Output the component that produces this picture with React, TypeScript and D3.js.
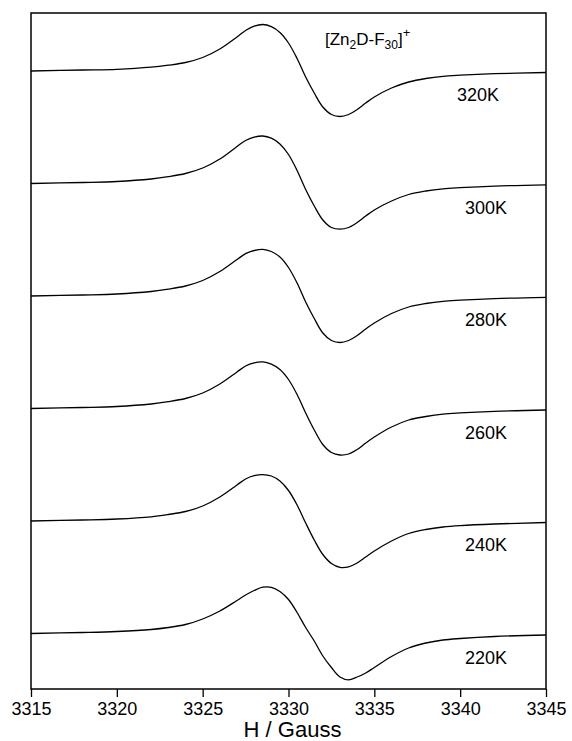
import React, {useEffect, useRef} from 'react';
import * as d3 from 'd3';

// magnetic field samples (Gauss), shared by all spectra
const fields = [3315, 3318, 3320, 3322, 3323, 3324, 3325, 3326, 3327, 3327.5, 3328, 3328.5, 3329, 3329.5, 3330,
    3330.5, 3331, 3331.5, 3332, 3332.5, 3333, 3333.5, 3334, 3334.5, 3335, 3336, 3337, 3338, 3339, 3340, 3342, 3345];

// derivative EPR signal (a.u.) per temperature
const s320 = [0, 1, 1.7, 3.8, 5.8, 8.5, 13.5, 22, 34, 40.5, 44.8, 46.5, 44.3, 38.5, 28, 12.5, -6, -22, -36, -43.5, -45.5, -43.5, -38.5, -32, -26, -17, -11, -7.5, -5.3, -4.2, -2.7, -1.5];
const s300 = [0, 1, 2, 4.5, 6.8, 10, 15.5, 24.5, 37, 43, 46.3, 47.5, 45.3, 39.5, 29, 13, -6, -22.5, -36.5, -44, -45.7, -44, -39, -32.5, -26.5, -17.5, -11, -7.5, -5.3, -4.2, -2.6, -1.3];
const s280 = [0, 1, 2, 4.5, 6.8, 10, 15.5, 24.5, 36.5, 42.3, 45.5, 46.7, 44.5, 39, 28.5, 13, -6, -22.5, -37, -44.5, -46.5, -44.5, -39.5, -33, -27, -17.5, -11, -7.5, -5.3, -4.2, -2.6, -1.3];
const s260 = [0, 1, 2, 4.5, 6.8, 10, 15.5, 24.5, 36.5, 42.5, 45.7, 46.6, 44.3, 39, 29, 14, -4.5, -21.5, -36, -44, -46.5, -45.5, -41, -34.5, -28.5, -18.5, -11.5, -8, -5.6, -4.4, -2.8, -1.5];
const s240 = [0, 1, 2, 4.2, 6.5, 9.5, 15, 24, 36, 42, 45.3, 46.4, 45, 40, 30.5, 16, -2, -19, -33.5, -42.5, -46.3, -45.8, -42, -36, -30, -20, -12.5, -8.5, -6, -4.6, -3, -1.5];
const s220 = [0, 1, 2, 4, 6, 9, 14.5, 22.5, 33, 38.5, 43, 46.3, 46.2, 42, 34, 21, 6, -7.5, -22.5, -34, -43.5, -46.3, -43.5, -39.5, -34, -23, -14.5, -9.5, -6.5, -5, -3, -1.5];

const temps = ['320K', '300K', '280K', '260K', '240K', '220K'];
const signals = [s320, s300, s280, s260, s240, s220];
const offsets = [562.5, 450, 337.5, 225, 112.5, 0];

const xTicks = [3315, 3320, 3325, 3330, 3335, 3340, 3345];

const EprChart = ({width, height}) => {
    const svgRef = useRef(null);

    useEffect(() => {
        const svg = d3.select(svgRef.current);
        svg.selectAll('*').remove();

        const left = 31, right = 546, top = 13, bottom = 689;
        const font = 'Arial, "Liberation Sans", sans-serif';

        const x = d3.scaleLinear().domain([3315, 3345]).range([left, right]);
        const y = d3.scaleLinear().domain([-55.5, 620.5]).range([bottom, top]);

        // spectra
        const line = d3.line()
            .x(d => x(d[0]))
            .y(d => y(d[1]))
            .curve(d3.curveCatmullRom.alpha(0.5));

        signals.forEach((sig, i) => {
            const pts = fields.map((f, j) => [f, sig[j] + offsets[i]]);
            svg.append('path')
                .attr('d', line(pts))
                .attr('fill', 'none')
                .attr('stroke', '#000')
                .attr('stroke-width', 1.3);

            svg.append('text')
                .attr('x', i === 0 ? 457 : 465)
                .attr('y', y(offsets[i]) + 30)
                .attr('font-family', font)
                .attr('font-size', 18)
                .text(temps[i]);
        });

        // frame
        svg.append('rect')
            .attr('x', left)
            .attr('y', top)
            .attr('width', right - left)
            .attr('height', bottom - top)
            .attr('fill', 'none')
            .attr('stroke', '#000')
            .attr('stroke-width', 1.5);

        // x-axis
        const axis = svg.append('g')
            .attr('transform', `translate(0, ${bottom})`)
            .call(d3.axisBottom(x).tickValues(xTicks).tickFormat(d3.format('d')).tickSize(8).tickPadding(5));
        axis.select('.domain').remove();
        axis.selectAll('line').attr('stroke', '#000').attr('stroke-width', 1.3);
        axis.selectAll('text')
            .attr('font-family', font)
            .attr('font-size', 18)
            .attr('fill', '#000');

        svg.append('text')
            .attr('x', (left + right) / 2 + 4)
            .attr('y', 737)
            .attr('text-anchor', 'middle')
            .attr('font-family', font)
            .attr('font-size', 22)
            .text('H / Gauss');

        // compound label
        const lbl = svg.append('text')
            .attr('x', 325)
            .attr('y', 45)
            .attr('font-family', font)
            .attr('font-size', 17);
        lbl.append('tspan').text('[Zn');
        lbl.append('tspan').attr('font-size', 12).attr('dy', 4).text('2');
        lbl.append('tspan').attr('dy', -4).text('D-F');
        lbl.append('tspan').attr('font-size', 12).attr('dy', 4).text('30');
        lbl.append('tspan').attr('dy', -4).text(']');
        lbl.append('tspan').attr('font-size', 13).attr('dy', -8).text('+');
    }, [width, height]);

    return (
        <svg ref={svgRef} width={width} height={height}
             style={{position: 'absolute', left: 0, top: 0, background: '#fff'}}></svg>
    );
};

export default function App() {
    return <EprChart width={572} height={741}/>;
}
